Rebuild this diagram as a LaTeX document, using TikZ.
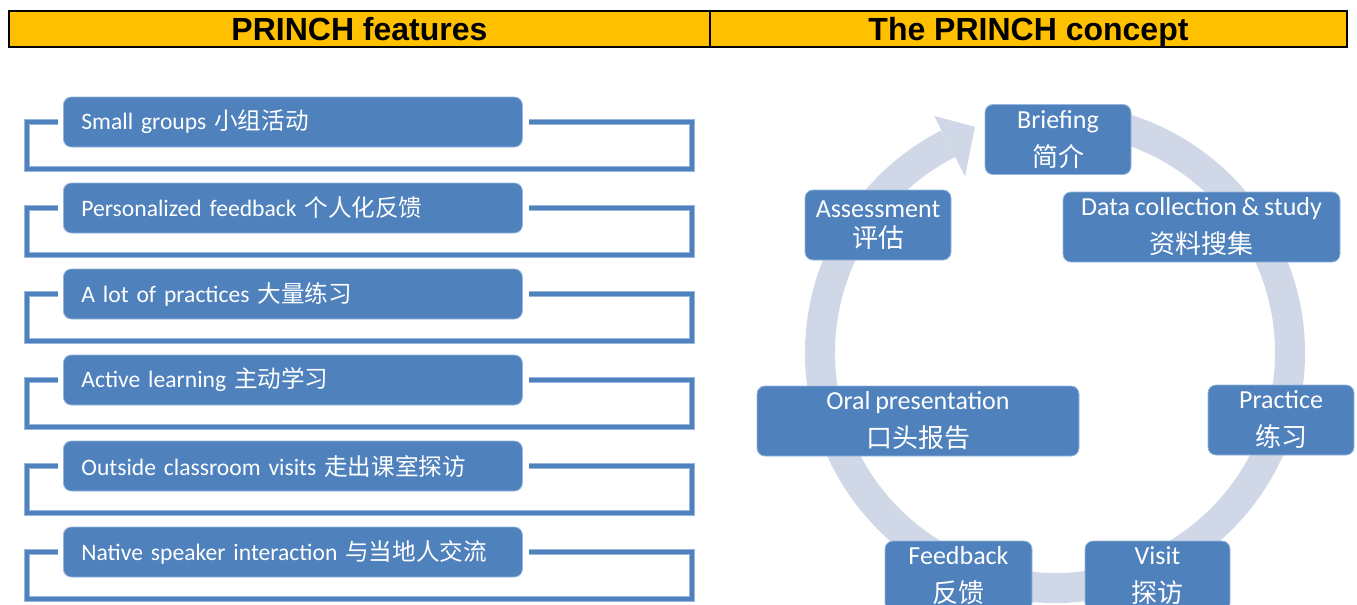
\documentclass[tikz,border=0pt]{standalone}
\usepackage{fontspec}
\setmainfont{Carlito}[WordSpace=0.8]
\newfontfamily\headfont{Liberation Sans}
\newfontfamily\cjkfont{Noto Sans CJK SC}
\definecolor{head_yellow}{RGB}{255,192,0}
\definecolor{box_blue}{RGB}{79,129,189}
\definecolor{box_edge}{RGB}{150,182,222}
\definecolor{ring_gray}{RGB}{208,216,232}

\begin{document}
\begin{tikzpicture}[x=0.5pt,y=-0.5pt]
    \tikzstyle{head}=[draw=black, line width=1pt, fill=head_yellow, minimum height=18pt, inner sep=0pt, text height=11.5pt, text depth=0pt, font=\headfont\bfseries\fontsize{16}{18}\selectfont]
    \tikzstyle{feat}=[fill=box_blue, draw=box_edge, line width=0.4pt, rounded corners=4pt, text=white, anchor=west, text width=211.5pt, inner xsep=9pt, minimum height=25pt, align=left, font=\fontsize{11.8}{14}\selectfont]
    \tikzstyle{bracket}=[draw=box_blue, line width=2pt, preaction={draw=box_edge, line width=2.6pt}]
    \tikzstyle{stage}=[fill=box_blue, draw=box_edge, line width=0.4pt, rounded corners=4pt, text=white, align=center, inner sep=0pt, minimum height=35pt, font=\fontsize{13}{19}\selectfont]
    \tikzstyle{ring}=[draw=ring_gray, line width=15pt]

    \useasboundingbox (0,0) rectangle (1357,605);

    % header
    \node[head, minimum width=350.5pt] (hl) at (359.5,29)  {PRINCH features};
    \node[head, minimum width=318.5pt] (hr) at (1028.5,29) {The PRINCH concept};

    % features
    \draw[bracket] (58,122) -- (27,122) -- (27,169) -- (692,169) -- (692,122) -- (529,122);
    \draw[bracket] (58,208) -- (27,208) -- (27,255) -- (692,255) -- (692,208) -- (529,208);
    \draw[bracket] (58,294) -- (27,294) -- (27,341) -- (692,341) -- (692,294) -- (529,294);
    \draw[bracket] (58,380) -- (27,380) -- (27,427) -- (692,427) -- (692,380) -- (529,380);
    \draw[bracket] (58,466) -- (27,466) -- (27,513) -- (692,513) -- (692,466) -- (529,466);
    \draw[bracket] (58,552) -- (27,552) -- (27,599) -- (692,599) -- (692,552) -- (529,552);

    \node[feat] (f1) at (63,122) {Small groups {\cjkfont 小组活动}};
    \node[feat] (f2) at (63,208) {Personalized feedback {\cjkfont 个人化反馈}};
    \node[feat] (f3) at (63,294) {A lot of practices {\cjkfont 大量练习}};
    \node[feat] (f4) at (63,380) {Active learning {\cjkfont 主动学习}};
    \node[feat] (f5) at (63,466) {Outside classroom visits {\cjkfont 走出课室探访}};
    \node[feat] (f6) at (63,552) {Native speaker interaction {\cjkfont 与当地人交流}};

    % concept cycle
    \coordinate (c) at (1055,353);
    \draw[ring] ([shift={(80:117.5pt)}]c) arc[start angle=80, end angle=-243, radius=117.5pt];
    \fill[ring_gray] ([shift={(117:99pt)}]c) -- ([shift={(109.5:120pt)}]c) -- ([shift={(117:133pt)}]c) -- cycle;

    \node[stage, minimum width=73pt]   (brief) at (1058,139.5)  {Briefing\\{\cjkfont 简介}};
    \node[stage, minimum width=138.5pt] (data) at (1201.5,227) {Data collection \& study\\{\cjkfont 资料搜集}};
    \node[stage, minimum width=73pt]   (prac)  at (1281,420)   {Practice\\{\cjkfont 练习}};
    \node[stage, minimum width=72.5pt] (visit) at (1157.5,576) {Visit\\{\cjkfont 探访}};
    \node[stage, minimum width=73.5pt] (fb)    at (958.5,576)  {Feedback\\{\cjkfont 反馈}};
    \node[stage, minimum width=161pt]  (oral)  at (918,421)    {Oral presentation\\{\cjkfont 口头报告}};
    \node[stage, minimum width=73pt, font=\fontsize{13}{15}\selectfont] (assess) at (878,225) {Assessment\\{\cjkfont 评估}};
\end{tikzpicture}
\end{document}
